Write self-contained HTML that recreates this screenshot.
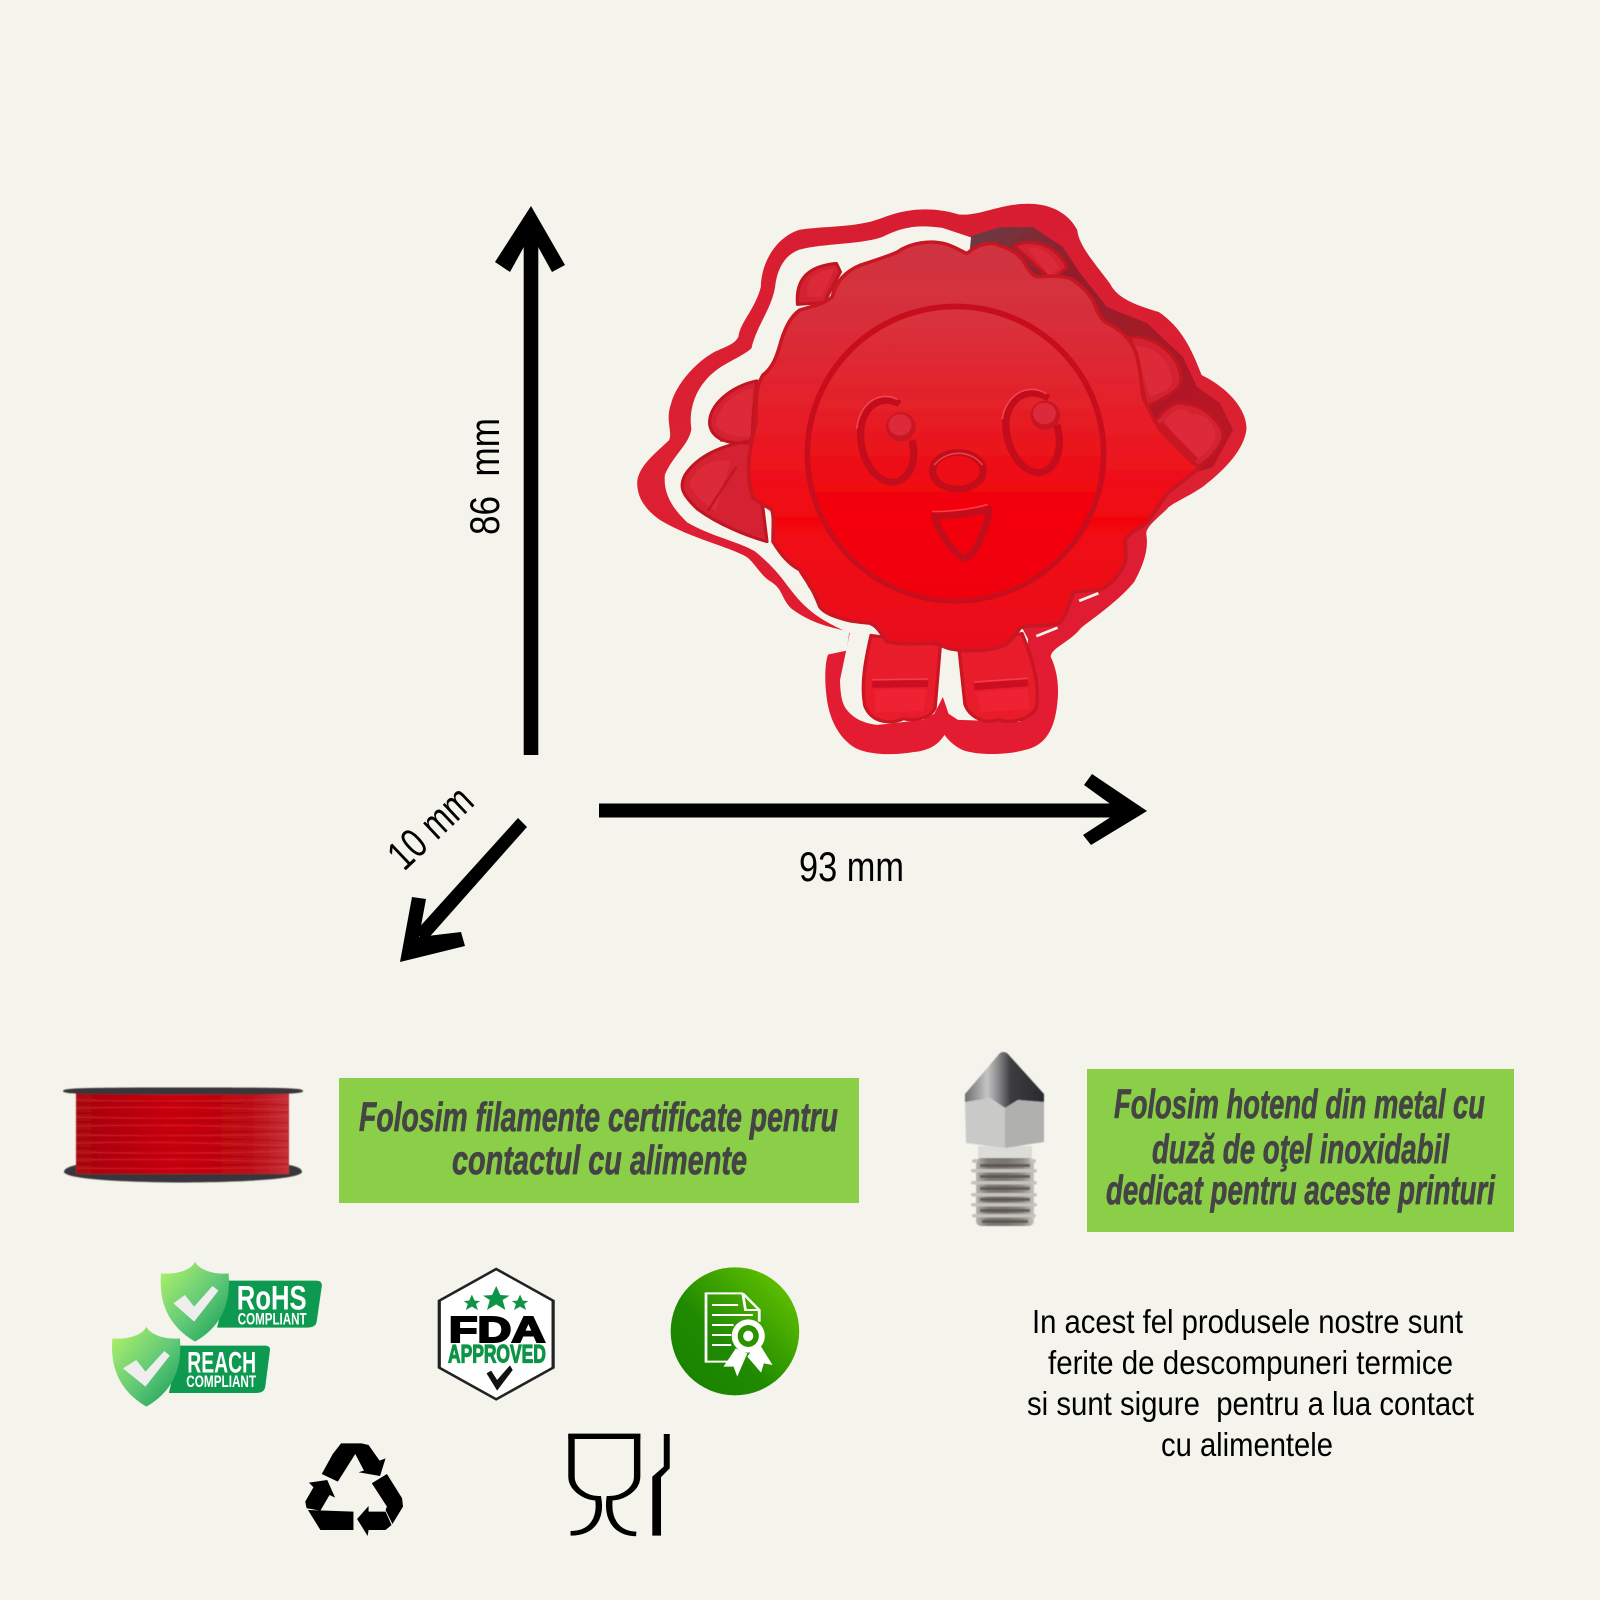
<!DOCTYPE html>
<html><head><meta charset="utf-8"><title>Cookie cutter</title>
<style>html,body{margin:0;padding:0;background:#f4f4ec}svg{display:block}
.t{font-family:"Liberation Sans Narrow","Liberation Sans",sans-serif;fill:#000}
.g{font-family:"Liberation Sans Narrow","Liberation Sans",sans-serif;font-style:italic;font-weight:bold;fill:#444;font-size:41px}
.b{font-family:"Liberation Sans Narrow","Liberation Sans",sans-serif;font-weight:bold;fill:#fff}
</style></head><body>
<svg xmlns="http://www.w3.org/2000/svg" width="1600" height="1600" viewBox="0 0 1600 1600">
<defs>
<linearGradient id="bodyG" gradientUnits="userSpaceOnUse" x1="0" y1="160" x2="0" y2="1230"><stop offset="0" stop-color="#cf3441"/><stop offset=".2" stop-color="#d82e3a"/><stop offset=".45" stop-color="#e81c26"/><stop offset=".68" stop-color="#f20610"/><stop offset="1" stop-color="#e8101e"/></linearGradient>
<linearGradient id="faceG" gradientUnits="userSpaceOnUse" x1="0" y1="325" x2="0" y2="1105"><stop offset="0" stop-color="#d83440"/><stop offset=".35" stop-color="#e42028"/><stop offset=".7" stop-color="#f40008"/><stop offset="1" stop-color="#f0060e"/></linearGradient>
<linearGradient id="inner" gradientUnits="userSpaceOnUse" x1="900" y1="120" x2="1400" y2="650"><stop offset="0" stop-color="#6a3a42"/><stop offset=".25" stop-color="#90202c"/><stop offset=".6" stop-color="#a01a28"/><stop offset="1" stop-color="#b81824"/></linearGradient>
<linearGradient id="ringG" gradientUnits="userSpaceOnUse" x1="0" y1="60" x2="0" y2="1500"><stop offset="0" stop-color="#d81f30"/><stop offset=".5" stop-color="#dc2030"/><stop offset="1" stop-color="#e41c30"/></linearGradient>
<linearGradient id="sh" x1="0" y1="0" x2="1" y2="1"><stop offset="0" stop-color="#b4f468"/><stop offset=".55" stop-color="#60c878"/><stop offset="1" stop-color="#109a50"/></linearGradient>
<linearGradient id="circ" x1="1" y1="0" x2="0" y2="1"><stop offset="0" stop-color="#70cc00"/><stop offset=".6" stop-color="#1f8a00"/><stop offset="1" stop-color="#178000"/></linearGradient>
<linearGradient id="cone" gradientUnits="userSpaceOnUse" x1="965" y1="0" x2="1044" y2="0"><stop offset="0" stop-color="#6e6e70"/><stop offset=".28" stop-color="#c4c4c4"/><stop offset=".42" stop-color="#8a8a8c"/><stop offset=".58" stop-color="#3c3c40"/><stop offset="1" stop-color="#2a2a2e"/></linearGradient>
<linearGradient id="thr" x1="0" y1="0" x2="1" y2="0"><stop offset="0" stop-color="#b8b4ae"/><stop offset=".2" stop-color="#7e7a74"/><stop offset=".5" stop-color="#7a746e"/><stop offset=".8" stop-color="#8e8a84"/><stop offset="1" stop-color="#c6c4be"/></linearGradient>
<linearGradient id="spool" x1="0" y1="0" x2="1" y2="0"><stop offset="0" stop-color="#a80812"/><stop offset=".45" stop-color="#c90008"/><stop offset=".8" stop-color="#bb0a14"/><stop offset="1" stop-color="#c43238"/></linearGradient>
<filter id="soft" x="-5%" y="-5%" width="110%" height="110%"><feGaussianBlur stdDeviation="0.9"/></filter>
<filter id="soft2" x="-5%" y="-5%" width="110%" height="110%"><feGaussianBlur stdDeviation="0.6"/></filter>
</defs>
<rect width="1600" height="1600" fill="#f4f4ec"/>

<!-- cutter -->
<g transform="translate(620 180) scale(.40816 .38265)" filter="url(#soft)">
<path fill="url(#ringG)" d="M1000,62 C1060,62 1100,90 1120,130 C1125,170 1150,200 1200,270 C1215,300 1240,320 1320,345 C1375,385 1400,440 1425,510 C1475,535 1535,590 1535,650 C1530,700 1490,750 1430,800 C1390,830 1350,845 1340,860 C1310,890 1285,910 1290,930 C1295,970 1280,1010 1260,1050 C1230,1090 1180,1130 1130,1170 C1100,1210 1060,1220 1055,1245 C1070,1280 1078,1320 1070,1380 C1062,1440 1040,1480 990,1490 C950,1502 880,1505 840,1490 C820,1480 805,1465 795,1450 C780,1475 760,1490 720,1495 C670,1505 600,1502 570,1480 C530,1450 510,1400 505,1340 C500,1290 505,1250 510,1240 L555,1230 L562,1180 C520,1170 470,1160 420,1120 C395,1095 400,1070 370,1050 C345,1035 330,1000 310,985 C270,960 170,935 100,890 C60,860 42,830 42,790 C45,750 80,720 120,680 C130,660 110,630 125,585 C135,540 180,480 230,450 C260,435 280,430 290,410 C295,370 330,340 345,280 C345,220 380,150 440,130 C500,120 580,125 640,100 C700,75 760,68 830,90 C880,95 930,62 1000,62 Z"/>
<!-- shadowed inside of ring, right side -->
<path fill="url(#inner)" d="M850,150 L931,123 L1012,123 L1085,175 L1127,243 L1193,332 L1291,374 L1379,462 L1414,541 L1470,583 L1502,653 L1453,750 L1300,800 L900,500 Z"/>
<!-- white gap: left side and around the legs -->
<path fill="#f4f4ec" d="M860,150 L790,125 C720,115 690,125 640,150 C580,170 500,165 440,182 C405,195 385,230 380,280 C370,340 335,380 322,440 C290,470 240,480 205,530 C175,570 170,620 175,650 C170,690 130,720 110,770 C105,820 130,860 165,895 C220,930 290,945 330,970 C365,1000 390,1030 410,1060 C440,1100 465,1140 563,1184 L539,1307 C540,1350 545,1370 556,1385 C575,1410 600,1420 630,1424 L742,1411 L770,1395 L791,1351 L805,1395 L828,1411 L980,1416 L1000,1200 L800,800 Z"/>
<!-- small slits on the right -->
<g stroke="#f4f4ec" stroke-width="7" fill="none"><path d="M1125,1100 L1172,1080"/><path d="M1020,1192 L1072,1170"/></g>
<!-- ears and hands (behind body) -->
<g fill="#d42432" stroke="#c01520" stroke-width="8" stroke-linejoin="round">
<path d="M1250,410 C1300,405 1372,450 1375,520 C1375,550 1330,575 1290,590 Z"/>
<path d="M1305,640 C1330,600 1360,575 1385,585 C1420,585 1470,625 1478,665 C1475,700 1440,735 1415,750 L1300,760 Z"/>
<path d="M335,525 C270,540 215,590 220,640 C225,670 250,690 320,690 Z"/>
<path d="M330,680 C260,690 195,715 160,770 C145,800 150,820 190,860 C240,900 310,930 360,945 Z"/>
<path d="M435,325 C430,260 460,225 530,218 L540,240 L500,320 Z"/>
<path d="M965,172 C1010,150 1070,170 1095,228 L1060,262 Z"/>
</g>
<g fill="#dc2c38">
<path d="M1262,435 C1310,430 1355,480 1352,530 C1345,550 1320,560 1298,565 Z"/>
<path d="M1335,630 C1350,600 1380,590 1400,612 C1440,610 1462,645 1458,675 C1448,705 1425,722 1405,735 Z"/>
<path d="M325,545 C280,555 240,595 235,635 C240,660 275,672 320,672 Z"/>
<path d="M270,735 C230,725 185,750 172,790 C172,815 205,845 235,865 Z"/>
<path d="M460,305 C450,260 480,235 525,232 L495,305 Z"/>
<path d="M1000,178 C1030,170 1060,195 1075,230 L1050,250 Z"/>
</g>
<g fill="none" stroke="#c01520" stroke-width="6"><path d="M215,865 L285,750 M245,680 L315,690"/></g>
<!-- legs -->
<g fill="#e81c2a" stroke="#c81420" stroke-width="8" stroke-linejoin="round">
<path d="M615,1190 L785,1215 L772,1380 C760,1408 720,1415 695,1408 C670,1420 620,1425 600,1375 C590,1320 600,1260 615,1190 Z"/>
<path d="M830,1220 L985,1185 C1010,1250 1030,1320 1020,1380 C1000,1415 950,1420 925,1410 C890,1425 855,1400 845,1370 Z"/>
</g>
<g fill="none" stroke="#cc1020" stroke-width="18"><path d="M618,1318 L755,1316 M868,1324 L1000,1314"/></g>
<g fill="none" stroke="#f0404c" stroke-width="4"><path d="M618,1306 L755,1304 M868,1312 L1000,1302"/></g>
<g fill="#ee2030"><path d="M622,1332 L750,1330 L745,1388 L625,1392 Z"/><path d="M872,1338 L1000,1328 L1005,1382 L885,1392 Z"/></g>
<!-- body -->
<path fill="url(#bodyG)" stroke="#c81522" stroke-width="9" stroke-linejoin="round" d="M850,192 C880,165 910,160 931,172 C960,180 975,195 987,209 C1000,235 1010,250 1022,253 C1060,250 1090,250 1110,261 C1135,280 1150,300 1159,314 C1170,350 1180,365 1193,374 C1235,395 1260,430 1267,462 C1275,500 1278,535 1281,567 L1311,632 L1408,742 L1421,750 C1390,780 1360,800 1340,820 C1320,850 1305,875 1291,896 C1265,915 1245,925 1237,941 C1240,965 1240,985 1237,1001 C1220,1040 1200,1060 1176,1071 C1150,1075 1125,1072 1110,1079 C1100,1115 1090,1140 1078,1158 C1040,1170 1005,1160 980,1171 C965,1195 950,1215 931,1220 C895,1232 860,1232 826,1228 C800,1225 790,1218 777,1210 C735,1212 690,1215 654,1207 C640,1185 630,1165 612,1158 C590,1155 570,1155 556,1150 C520,1140 500,1130 490,1116 C480,1090 475,1075 466,1063 C455,1040 445,1030 441,1019 C415,1005 395,980 375,945 C375,905 378,880 372,862 C355,850 335,840 325,830 C310,780 312,720 332,640 C335,590 328,550 350,510 C375,490 385,460 395,420 C405,385 420,355 440,340 C470,330 500,325 520,305 C530,260 560,235 590,222 C625,210 655,200 680,188 C710,165 760,155 800,168 C820,175 835,185 850,192 Z"/>
<!-- hand divider, thick -->
<path d="M1320,640 L1408,735" stroke="#c81522" stroke-width="22" fill="none"/>
<!-- face -->
<ellipse cx="822" cy="715" rx="370" ry="392" fill="#c8101c"/>
<ellipse cx="822" cy="716" rx="356" ry="378" fill="url(#faceG)"/>
<g fill="none" stroke-linejoin="round">
<g stroke="#c40f1a" stroke-width="18">
<path d="M685,585 C640,560 595,590 590,650 C585,720 620,785 665,790 C710,790 730,730 715,680"/>
<path d="M1050,570 C1000,540 955,565 945,630 C945,700 980,765 1030,765 C1075,755 1085,690 1070,640"/>
<ellipse cx="828" cy="760" rx="62" ry="48"/>
<path d="M770,878 C810,880 870,870 905,860 C900,910 870,980 845,990 C815,975 780,920 770,878 Z"/>
</g>
<g stroke="#f8545c" stroke-width="4" opacity=".75">
<path d="M680,574 C635,548 586,585 580,650"/>
<path d="M1045,559 C1000,528 946,560 936,625"/>
<path d="M770,745 C800,704 860,704 888,745"/>
<path d="M765,866 C810,868 870,858 900,848"/>
</g>
</g>
<ellipse cx="688" cy="645" rx="36" ry="38" fill="#c81420"/>
<ellipse cx="1042" cy="615" rx="36" ry="38" fill="#c81420"/>
<ellipse cx="686" cy="640" rx="28" ry="28" fill="#dc2c3a"/>
<ellipse cx="1040" cy="610" rx="28" ry="28" fill="#dc2c3a"/>
</g>

<!-- arrows -->
<g fill="#000">
<rect x="523.7" y="225" width="14.6" height="530"/>
<polygon points="531,206 565,265 552,272 531,234 510,272 495,262"/>
<rect x="599" y="803.5" width="525" height="14"/>
<polygon points="1147,811 1092,774 1084,785 1120,811 1083,835 1091,845"/>
<polygon points="518,818 527,827 425,942 415,932"/>
<polygon points="400,962 412,897 426,899 419,937 461,932 465,946"/>
</g>
<text class="t" font-size="42" transform="translate(499 535) rotate(-90)" textLength="117" lengthAdjust="spacingAndGlyphs" xml:space="preserve">86  mm</text>
<text class="t" font-size="42" x="799" y="881" textLength="105" lengthAdjust="spacingAndGlyphs">93 mm</text>
<text class="t" font-size="42" transform="translate(404 872) rotate(-43.4)" textLength="99" lengthAdjust="spacingAndGlyphs">10 mm</text>

<!-- spool -->
<g filter="url(#soft2)">
<rect x="76" y="1092" width="213" height="84" fill="url(#spool)"/>
<g stroke="#e8404a" stroke-width="1" opacity=".45" fill="none">
<path d="M76,1100 Q180,1103 289,1099M76,1108 Q180,1106 289,1110M76,1117 Q180,1120 289,1116M76,1126 Q180,1124 289,1128M76,1135 Q180,1137 289,1134M76,1143 Q180,1141 289,1146M76,1152 Q180,1155 289,1151M76,1160 Q180,1158 289,1162M76,1168 Q180,1170 289,1167"/>
</g>
<g stroke="#8e0008" stroke-width="1" opacity=".45" fill="none">
<path d="M76,1104 Q180,1101 289,1105M76,1113 Q180,1115 289,1112M76,1122 Q180,1120 289,1123M76,1131 Q180,1133 289,1131M76,1139 Q180,1137 289,1141M76,1148 Q180,1150 289,1147M76,1156 Q180,1154 289,1158M76,1164 Q180,1166 289,1164"/>
</g>
<path d="M63,1091 C63,1088 80,1087.5 183,1087.5 C286,1087.5 303,1088 303,1091 C303,1094 286,1094.5 183,1094.5 C80,1094.5 63,1094 63,1091 Z" fill="#38363a"/>
<path d="M64,1172 C64,1168 72,1166 76,1165 L76,1174 L289,1174 L289,1165 C295,1166 302,1168 302,1172 C300,1178 260,1182 183,1182.5 C105,1182 66,1178 64,1172 Z" fill="#38363a"/>
</g>
<!-- green boxes -->
<rect x="339" y="1078" width="520" height="125" fill="#8bce47"/>
<rect x="1087" y="1069" width="427" height="163" fill="#8bce47"/>
<g class="g" stroke="#444" stroke-width=".7">
<text class="g" x="359" y="1131" textLength="479" lengthAdjust="spacingAndGlyphs">Folosim filamente certificate pentru</text>
<text class="g" x="452" y="1174" textLength="295" lengthAdjust="spacingAndGlyphs">contactul cu alimente</text>
<text class="g" x="1114" y="1118" textLength="371" lengthAdjust="spacingAndGlyphs">Folosim hotend din metal cu</text>
<text class="g" x="1152" y="1163" textLength="297" lengthAdjust="spacingAndGlyphs">duză de oţel inoxidabil</text>
<text class="g" x="1106" y="1204" textLength="389" lengthAdjust="spacingAndGlyphs">dedicat pentru aceste printuri</text>
</g>
<!-- nozzle -->
<g filter="url(#soft2)">
<rect x="978" y="1146" width="54" height="14" fill="#dedcd8"/>
<rect x="976" y="1158" width="58" height="68" rx="5" fill="url(#thr)"/>
<g fill="#c4c2bc">
<rect x="972" y="1159" width="6" height="4" rx="2"/><rect x="1030" y="1159" width="6" height="4" rx="2"/>
<rect x="971" y="1169" width="66" height="3.5" rx="1.7"/><rect x="971" y="1181" width="66" height="3.5" rx="1.7"/><rect x="971" y="1193" width="66" height="3.5" rx="1.7"/><rect x="971" y="1203" width="66" height="3.5" rx="1.7"/><rect x="972" y="1214" width="64" height="3.5" rx="1.7"/>
</g>
<g fill="#56504c" opacity=".8"><rect x="980" y="1164" width="50" height="3"/><rect x="980" y="1175" width="50" height="3"/><rect x="980" y="1187" width="50" height="3"/><rect x="980" y="1198" width="50" height="3"/><rect x="980" y="1209" width="50" height="3"/><rect x="982" y="1220" width="46" height="3"/></g>
<path d="M1000,1053 Q1003,1051 1007,1053 L1044,1094 L1044,1103 L1018,1100 L1005,1108 L990,1098 L965,1103 L965,1094 Z" fill="url(#cone)"/>
<path d="M965,1102 L990,1098 L1005,1108 L1005,1148 L966,1143 Z" fill="#c9c9c7"/>
<path d="M1005,1108 L1018,1100 L1044,1102 L1044,1142 L1005,1148 Z" fill="#b0b0ae"/>
</g>

<!-- badges: drawn in zoom coordinates -->
<g transform="translate(100 1250) scale(.4591 .3333)">
<path d="M280,92 L470,92 Q485,92 483,110 L472,215 Q470,233 450,233 L255,233 Z" fill="#0d9a50"/>
<path d="M207,35 C215,60 250,75 280,70 C285,150 270,225 207,275 C145,225 128,150 133,70 C165,75 200,60 207,35 Z" fill="url(#sh)"/>
<path d="M160,160 L185,135 L205,170 L245,108 L258,122 L205,215 Z" fill="#eeeeee"/>
<text class="b" font-size="104" x="298" y="178" textLength="152" lengthAdjust="spacingAndGlyphs">RoHS</text>
<text class="b" font-size="50" x="300" y="224" textLength="150" lengthAdjust="spacingAndGlyphs">COMPLIANT</text>
<path d="M174,287 L360,287 Q372,287 370,303 L360,410 Q358,429 340,429 L150,429 Z" fill="#0d9a50"/>
<path d="M101,230 C109,255 144,270 174,265 C179,345 164,420 101,470 C39,420 22,345 27,265 C59,270 94,255 101,230 Z" fill="url(#sh)"/>
<path d="M50,355 L79,330 L99,365 L140,303 L152,317 L99,410 Z" fill="#eeeeee"/>
<text class="b" font-size="88" x="190" y="368" textLength="150" lengthAdjust="spacingAndGlyphs">REACH</text>
<text class="b" font-size="50" x="188" y="411" textLength="152" lengthAdjust="spacingAndGlyphs">COMPLIANT</text>
<!-- FDA -->
<polygon points="863,57 987,152 987,353 863,448 739,353 739,152" fill="#fff" stroke="#222" stroke-width="7" stroke-linejoin="miter"/>
<g fill="#0d9446">
<polygon points="863,108 872,135 892,137 877,150 883,180 863,163 843,180 849,150 834,137 854,135"/>
<polygon points="810,134 816,152 828,153 819,162 823,180 810,170 797,180 801,162 792,153 804,152"/>
<polygon points="915,134 921,152 933,153 924,162 928,180 915,170 902,180 906,162 897,153 909,152"/>
</g>
<text x="760" y="276" font-family="'Liberation Sans',sans-serif" font-weight="bold" font-size="108" fill="#000" stroke="#000" stroke-width="6" textLength="210" lengthAdjust="spacingAndGlyphs">FDA</text>
<text x="758" y="338" font-family="'Liberation Sans Narrow','Liberation Sans',sans-serif" font-weight="bold" font-size="74" fill="#0d9446" stroke="#0d9446" stroke-width="3.5" textLength="213" lengthAdjust="spacingAndGlyphs">APPROVED</text>
<polygon points="842,370 852,362 865,390 893,346 899,360 865,422" fill="#111"/>
<!-- cert -->
<ellipse cx="1383" cy="244" rx="140" ry="192" fill="url(#circ)"/>
<g fill="none" stroke="#fff" stroke-width="6">
<path d="M1400,130 L1320,130 L1320,335 L1372,335 M1400,130 L1436,180 L1436,215 M1400,130 L1406,180 L1436,180"/>
</g>
<g stroke="#fff" stroke-width="6" fill="none"><path d="M1333,165 H1390 M1333,195 H1422 M1333,225 H1380 M1333,255 H1375 M1333,285 H1375"/></g>
<polygon points="1385,295 1358,350 1380,350 1388,380 1410,310" fill="#fff"/>
<polygon points="1420,300 1410,320 1440,368 1446,340 1465,345 1440,290" fill="#fff"/>
<ellipse cx="1412" cy="258" rx="36" ry="50" fill="#fff"/>
<ellipse cx="1412" cy="258" rx="23" ry="33" fill="#2a9400"/>
<ellipse cx="1412" cy="258" rx="11" ry="16" fill="#fff"/>
<!-- recycle -->
<g fill="#000">
<polygon points="483,672 518,695 556,612 575,662 563,667 610,678 622,625 609,632 585,585 570,580 525,580 507,612"/>
<polygon points="592,700 625,672 658,745 660,770 637,822 622,780 625,770"/>
<polygon points="622,785 585,785 585,768 560,807 583,858 585,840 622,840 635,825"/>
<polygon points="453,780 552,785 552,840 480,840"/>
<polygon points="495,690 455,698 465,712 447,755 450,775 480,782 500,735 512,743"/>
</g>
<!-- food safe -->
<g fill="none" stroke="#000">
<path d="M1020,559 H1177" style="stroke-width:16"/>
<path d="M1027,552 V680 C1027,715 1055,745 1085,745 C1092,800 1075,850 1025,850" stroke-width="14"/>
<path d="M1170,552 V680 C1170,715 1142,745 1110,745 C1105,800 1120,850 1168,852" stroke-width="14"/>
</g>
<polygon points="1228,552 1241,552 1241,655 1222,682 1222,857 1203,857 1203,680 1228,650" fill="#000"/>
</g>

<!-- right paragraph -->
<g class="t" font-size="33">
<text class="t" font-size="33" x="1032" y="1333" textLength="431" lengthAdjust="spacingAndGlyphs">In acest fel produsele nostre sunt</text>
<text class="t" font-size="33" x="1048" y="1374" textLength="405" lengthAdjust="spacingAndGlyphs">ferite de descompuneri termice</text>
<text class="t" font-size="33" x="1027" y="1415" textLength="447" lengthAdjust="spacingAndGlyphs" xml:space="preserve">si sunt sigure  pentru a lua contact</text>
<text class="t" font-size="33" x="1161" y="1456" textLength="172" lengthAdjust="spacingAndGlyphs">cu alimentele</text>
</g>
</svg>
</body></html>
